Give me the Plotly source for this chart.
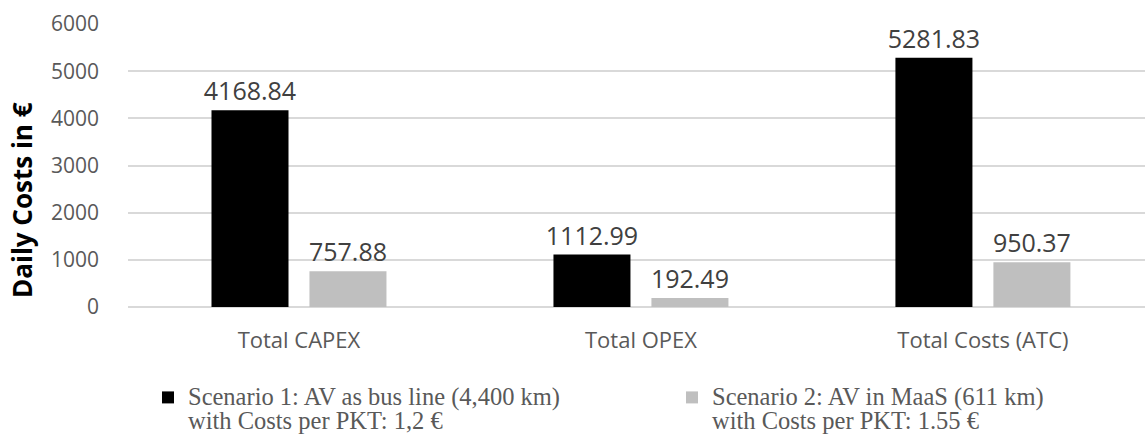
import plotly.graph_objects as go

categories = ["Total CAPEX", "Total OPEX", "Total Costs (ATC)"]
scenario1 = [4168.84, 1112.99, 5281.83]
scenario2 = [757.88, 192.49, 950.37]
scenario1_lines = ["Scenario 1: AV as bus line (4,400 km)", "with Costs per PKT: 1,2 €"]
scenario2_lines = ["Scenario 2: AV in MaaS (611 km)", "with Costs per PKT: 1.55 €"]
y_ticks = [0, 1000, 2000, 3000, 4000, 5000, 6000]
y_title = "Daily Costs in €"

W, H = 1145, 436
M_L, M_R, M_T, M_B = 128, 0, 24, 129

LABEL_FONT = dict(family="Open Sans", size=25, color="#404040")
LEGEND_TEXT_PX = 24.5


def legend_name(lines):
    # larger glyphs inside a smaller base font keeps the two lines tight
    return "<br>".join(
        f'<span style="font-size:{LEGEND_TEXT_PX}px">{ln}</span>' for ln in lines
    )


def legend_box(x_px):
    return dict(
        orientation="h", xref="container", yref="container",
        x=x_px / W, xanchor="left", y=0.131, yanchor="top",
        font=dict(family="Liberation Serif", size=18.5, color="#595959"),
        valign="top", itemwidth=30, bgcolor="rgba(0,0,0,0)",
    )


fig = go.Figure()
fig.add_trace(go.Bar(
    x=categories, y=scenario1, name=legend_name(scenario1_lines),
    marker=dict(color="#000000", line=dict(width=0)),
    text=[f"{v:.2f}" for v in scenario1], textposition="outside",
    textfont=LABEL_FONT, cliponaxis=False, constraintext="none",
    legend="legend",
))
fig.add_trace(go.Bar(
    x=categories, y=scenario2, name=legend_name(scenario2_lines),
    marker=dict(color="#bfbfbf", line=dict(width=0)),
    text=[f"{v:.2f}" for v in scenario2], textposition="outside",
    textfont=LABEL_FONT, cliponaxis=False, constraintext="none",
    legend="legend2",
))

plot_w = W - M_L - M_R
plot_h = H - M_T - M_B

fig.update_layout(
    width=W, height=H,
    margin=dict(l=M_L, r=M_R, t=M_T, b=M_B),
    paper_bgcolor="white", plot_bgcolor="white",
    barmode="group", bargap=0.427, bargroupgap=0.214,
    font=dict(family="Open Sans", color="#595959"),
    showlegend=True,
    legend=legend_box(148),
    legend2=legend_box(672),
    xaxis=dict(
        type="category", range=[-0.5, 2.474],
        showgrid=False, showline=False, ticks="", ticklabelstandoff=18,
        tickfont=dict(family="Open Sans", size=22, color="#595959"),
    ),
    yaxis=dict(
        range=[0, 6000], tickvals=y_ticks,
        showgrid=True, gridcolor="#d9d9d9", gridwidth=1.5,
        zeroline=True, zerolinecolor="#d9d9d9", zerolinewidth=1.5,
        showline=False, ticks="", ticklabelstandoff=28,
        tickfont=dict(family="Open Sans", size=21, color="#595959"),
    ),
    annotations=[dict(
        text=f"<b>{y_title}</b>", textangle=-90, showarrow=False,
        xref="paper", yref="paper",
        x=(22 - M_L) / plot_w, y=(H - M_B - 200) / plot_h,
        xanchor="center", yanchor="middle",
        font=dict(family="Open Sans", size=26, color="#000000"),
    )],
)

fig.write_html("out.html")
